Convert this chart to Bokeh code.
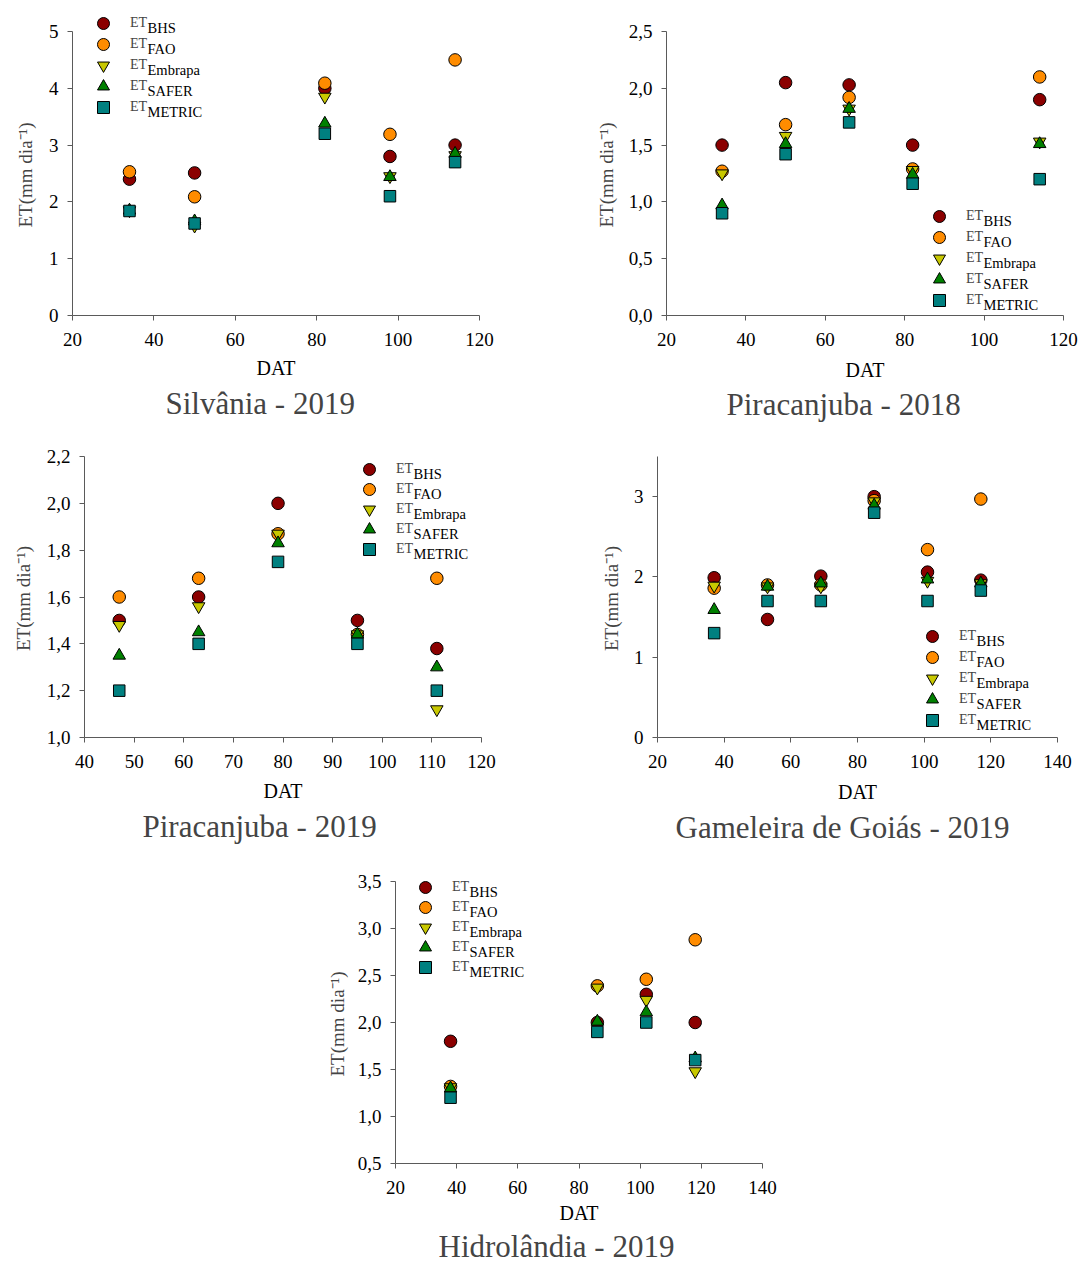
from bokeh.plotting import figure
from bokeh.layouts import column, row
from bokeh.models import Legend, LegendItem, Label, Title, FixedTicker, Range1d, Spacer
from bokeh.embed import file_html
from bokeh.resources import INLINE

# ---------------------------------------------------------------- data
series_names = ["BHS", "FAO", "Embrapa", "SAFER", "METRIC"]
series_colors = ["#8b0000", "#ff8c00", "#c8c800", "#008000", "#008080"]
series_markers = ["circle", "circle", "inverted_triangle", "triangle", "square"]
series_sizes = [12.5, 12.5, 12.5, 12.5, 11.5]

# Silvânia - 2019
silvania_dat = [34, 50, 82, 98, 114]
silvania_bhs = [2.40, 2.51, 4.00, 2.80, 3.00]
silvania_fao = [2.53, 2.09, 4.09, 3.19, 4.50]
silvania_embrapa = [1.85, 1.58, 3.85, 2.45, 2.82]
silvania_safer = [1.85, 1.66, 3.38, 2.44, 2.85]
silvania_metric = [1.84, 1.62, 3.20, 2.10, 2.70]

# Piracanjuba - 2018
pira18_dat = [34, 50, 66, 82, 114]
pira18_bhs = [1.50, 2.05, 2.03, 1.50, 1.90]
pira18_fao = [1.27, 1.68, 1.92, 1.29, 2.10]
pira18_embrapa = [1.25, 1.58, 1.82, 1.28, 1.53]
pira18_safer = [0.97, 1.51, 1.82, 1.24, 1.51]
pira18_metric = [0.90, 1.42, 1.70, 1.16, 1.20]

# Piracanjuba - 2019
pira19_dat = [47, 63, 79, 95, 111]
pira19_bhs = [1.50, 1.60, 2.00, 1.50, 1.38]
pira19_fao = [1.60, 1.68, 1.87, 1.44, 1.68]
pira19_embrapa = [1.48, 1.56, 1.87, 1.44, 1.12]
pira19_safer = [1.35, 1.45, 1.83, 1.44, 1.30]
pira19_metric = [1.20, 1.40, 1.75, 1.40, 1.20]

# Gameleira de Goiás - 2019
gameleira_dat = [37, 53, 69, 85, 101, 117]
gameleira_bhs = [1.99, 1.47, 2.01, 3.00, 2.06, 1.96]
gameleira_fao = [1.86, 1.90, 1.90, 2.95, 2.34, 2.97]
gameleira_embrapa = [1.89, 1.88, 1.88, 2.94, 1.95, 1.92]
gameleira_safer = [1.59, 1.88, 1.92, 2.89, 1.97, 1.92]
gameleira_metric = [1.30, 1.70, 1.70, 2.80, 1.70, 1.83]

# Hidrolândia - 2019
hidro_dat = [38, 86, 102, 118]
hidro_bhs = [1.80, 2.00, 2.30, 2.00]
hidro_fao = [1.32, 2.39, 2.46, 2.88]
hidro_embrapa = [1.31, 2.37, 2.24, 1.48]
hidro_safer = [1.30, 2.01, 2.11, 1.62]
hidro_metric = [1.20, 1.90, 2.00, 1.60]

# axis ticks and their labels
x_ticks_120 = [20, 40, 60, 80, 100, 120]
x_labels_120 = ["20", "40", "60", "80", "100", "120"]
x_ticks_40_120 = [40, 50, 60, 70, 80, 90, 100, 110, 120]
x_labels_40_120 = ["40", "50", "60", "70", "80", "90", "100", "110", "120"]
x_ticks_140 = [20, 40, 60, 80, 100, 120, 140]
x_labels_140 = ["20", "40", "60", "80", "100", "120", "140"]
y_ticks_silvania = [0, 1, 2, 3, 4, 5]
y_labels_silvania = ["0", "1", "2", "3", "4", "5"]
y_ticks_pira18 = [0.0, 0.5, 1.0, 1.5, 2.0, 2.5]
y_labels_pira18 = ["0,0", "0,5", "1,0", "1,5", "2,0", "2,5"]
y_ticks_pira19 = [1.0, 1.2, 1.4, 1.6, 1.8, 2.0, 2.2]
y_labels_pira19 = ["1,0", "1,2", "1,4", "1,6", "1,8", "2,0", "2,2"]
y_ticks_gameleira = [0, 1, 2, 3]
y_labels_gameleira = ["0", "1", "2", "3"]
y_ticks_hidro = [0.5, 1.0, 1.5, 2.0, 2.5, 3.0, 3.5]
y_labels_hidro = ["0,5", "1,0", "1,5", "2,0", "2,5", "3,0", "3,5"]

x_title = "DAT"
y_title = "ET(mm dia⁻¹)"

FONT = "Liberation Serif"
AXIS_GRAY = "#5a5a5a"
LEG_BOX = 30          # legend glyph box; the marker is drawn at 0.4 of it
ET_WIDTH = 17         # width of "ET" at the legend font size
Y_TITLE_LEN = 108     # length of the rotated y title at its font size


def make_panel(title, dat, values, x_range, y_bounds, xt, xl, yt, yl,
               width, height, left, right, pad_top, axis_top, frame_bottom,
               legend_xy, row_h, title_offset, dat_standoff, title_standoff,
               ytitle_standoff):
    """axis_top / frame_bottom / pad_top are pixel rows inside this figure."""
    lo, hi = y_bounds
    # the frame reaches above the top tick so the legend has room there
    per_px = (hi - lo) / (frame_bottom - axis_top)
    y_end = hi + (axis_top - pad_top) * per_px
    bottom = height - frame_bottom

    p = figure(width=width, height=height, output_backend="svg",
               toolbar_location=None, title=None,
               x_range=Range1d(*x_range), y_range=Range1d(lo, y_end),
               min_border_left=left, min_border_right=right,
               min_border_top=pad_top, min_border_bottom=bottom)
    p.outline_line_color = None
    p.grid.visible = False
    p.background_fill_color = "white"
    p.border_fill_color = "white"

    for ax, ticks, labels in ((p.xaxis[0], xt, xl), (p.yaxis[0], yt, yl)):
        ax.ticker = FixedTicker(ticks=ticks)
        ax.major_label_overrides = {float(t): s for t, s in zip(ticks, labels)}
        ax.minor_tick_line_color = None
        ax.major_tick_in = 0
        ax.major_tick_out = 5
        ax.axis_line_color = AXIS_GRAY
        ax.major_tick_line_color = AXIS_GRAY
        ax.major_label_text_font = FONT
        ax.major_label_text_font_size = "19px"
        ax.major_label_text_color = "black"
        ax.axis_label_text_font = FONT
        ax.axis_label_text_font_size = "20px"
        ax.axis_label_text_font_style = "normal"
        ax.axis_label_text_color = "black"
    p.xaxis.major_label_standoff = 12
    p.yaxis.major_label_standoff = 9
    p.yaxis.bounds = (lo, hi)
    p.xaxis.axis_label = x_title
    p.xaxis.axis_label_standoff = dat_standoff

    # y title centred on the drawn part of the axis (not on the taller frame)
    axis_len = frame_bottom - axis_top
    p.add_layout(Title(text=y_title, align="left",
                       offset=(axis_len - Y_TITLE_LEN) / 2,
                       text_font=FONT, text_font_size="19px",
                       text_font_style="normal", standoff=ytitle_standoff), "left")

    items = []
    for name, vals, color, marker, size in zip(series_names, values, series_colors,
                                               series_markers, series_sizes):
        r = p.scatter(dat, vals, marker=marker, size=size, fill_color=color,
                      line_color="black", line_width=1)
        items.append(LegendItem(label="ET", renderers=[r]))

    # legend: (mx, my) is the first row's marker centre inside this figure.
    # Rows alternate between two legends so each glyph box can be LEG_BOX tall.
    mx, my = legend_xy
    leg_left = mx - LEG_BOX / 2
    for first in (0, 1):
        sub = items[first::2]
        top = my + first * row_h - LEG_BOX / 2
        bot = top + len(sub) * LEG_BOX + (len(sub) - 1) * (2 * row_h - LEG_BOX)
        p.add_layout(Legend(items=sub,
                            location=(leg_left - left, frame_bottom - bot),
                            glyph_width=LEG_BOX, glyph_height=LEG_BOX,
                            label_height=LEG_BOX, label_width=10,
                            spacing=2 * row_h - LEG_BOX, padding=0, margin=0,
                            label_standoff=27 - LEG_BOX // 2,
                            border_line_color=None, background_fill_alpha=0,
                            label_text_font=FONT, label_text_font_size="14px"))
    for i, name in enumerate(series_names):
        cy = my + i * row_h
        p.add_layout(Label(x=mx + 27 + ET_WIDTH - left, y=frame_bottom - (cy + 4),
                           x_units="screen", y_units="screen", text=name,
                           text_font=FONT, text_font_size="14.5px",
                           text_baseline="middle", text_align="left",
                           text_color="black"))

    p.add_layout(Title(text=title, align="left", offset=title_offset,
                       text_font=FONT, text_font_size="31px",
                       text_font_style="normal", standoff=title_standoff), "below")
    return p


# page rows: row 1 0..434, row 2 434..860, row 3 860..1263.
# Plots in one row share their top and bottom borders.
R2, R3 = 434, 860
p1 = make_panel("Silvânia - 2019", silvania_dat,
                [silvania_bhs, silvania_fao, silvania_embrapa, silvania_safer, silvania_metric],
                (20, 120), (0, 5), x_ticks_120, x_labels_120,
                y_ticks_silvania, y_labels_silvania,
                545, R2, 72, 66, 8, 31, 315, (103, 23), 21, 93, 8, 4, 19)
p2 = make_panel("Piracanjuba - 2018", pira18_dat,
                [pira18_bhs, pira18_fao, pira18_embrapa, pira18_safer, pira18_metric],
                (20, 120), (0, 2.5), x_ticks_120, x_labels_120,
                y_ticks_pira18, y_labels_pira18,
                545, R2, 121, 27, 8, 31, 315, (939 - 545, 216), 21, 60, 10, 2, 18)
p3 = make_panel("Piracanjuba - 2019", pira19_dat,
                [pira19_bhs, pira19_fao, pira19_embrapa, pira19_safer, pira19_metric],
                (40, 120), (1.0, 2.2), x_ticks_40_120, x_labels_40_120,
                y_ticks_pira19, y_labels_pira19,
                545, R3 - R2, 84, 64, 8, 456 - R2, 737 - R2, (369, 469 - R2), 20, 58, 9, 5, 19)
p4 = make_panel("Gameleira de Goiás - 2019", gameleira_dat,
                [gameleira_bhs, gameleira_fao, gameleira_embrapa, gameleira_safer, gameleira_metric],
                (20, 140), (0, 3.5), x_ticks_140, x_labels_140,
                y_ticks_gameleira, y_labels_gameleira,
                545, R3 - R2, 112, 33, 8, 456 - R2, 737 - R2, (932 - 545, 636 - R2), 21, 18, 10, 5, 18)
p5 = make_panel("Hidrolândia - 2019", hidro_dat,
                [hidro_bhs, hidro_fao, hidro_embrapa, hidro_safer, hidro_metric],
                (20, 140), (0.5, 3.5), x_ticks_140, x_labels_140,
                y_ticks_hidro, y_labels_hidro,
                545, 1263 - R3, 85, 93, 10, 881 - R3, 1163 - R3, (425 - 310, 887 - R3), 20, 43, 5, 0, 14)

layout = column(row(p1, p2, spacing=0),
                row(p3, p4, spacing=0),
                row(Spacer(width=310, height=1263 - R3), p5, spacing=0),
                spacing=0)

open("out.html", "w").write(file_html(layout, INLINE, title="ET"))
